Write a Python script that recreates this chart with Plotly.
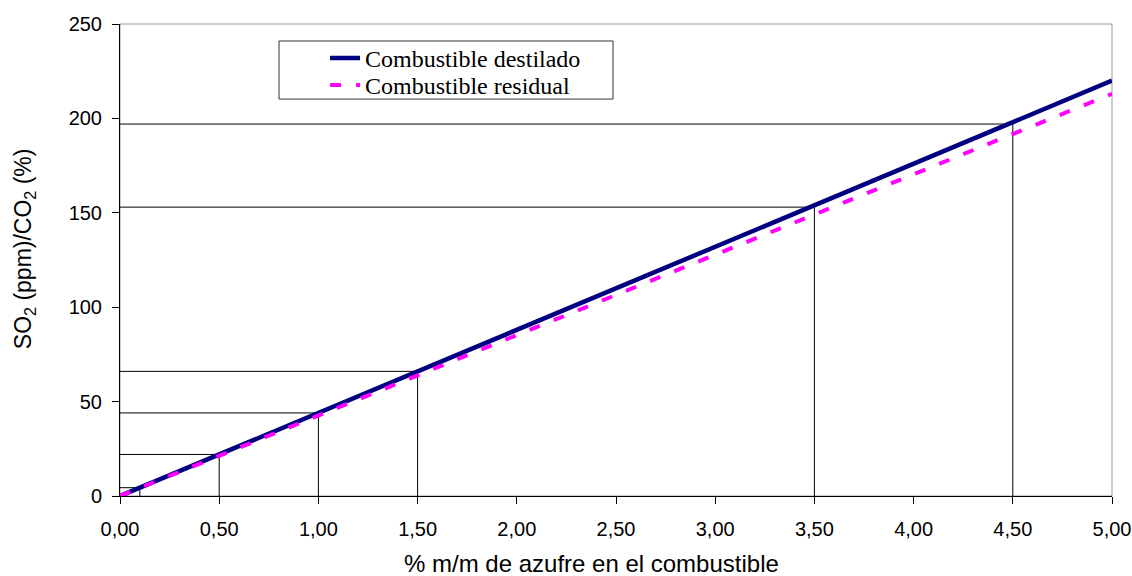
import plotly.graph_objects as go

# Data
x_dest = [0.0, 5.0]
y_dest = [0.0, 220.0]
x_resid = [0.0, 5.0]
y_resid = [0.0, 213.0]

ref_x = [0.1, 0.5, 1.0, 1.5, 3.5, 4.5]
ref_y = [4.4, 22.0, 44.0, 66.0, 153.0, 197.0]

x_title = "% m/m de azufre en el combustible"
y_title = "SO<sub>2</sub> (ppm)/CO<sub>2</sub> (%)"

fig = go.Figure()

# reference L-shaped guide lines
gx, gy = [], []
for a, b in zip(ref_x, ref_y):
    gx += [0, a, a, None]
    gy += [b, b, 0, None]
fig.add_trace(go.Scatter(x=gx, y=gy, mode="lines", line=dict(color="black", width=1),
                         showlegend=False, hoverinfo="skip", connectgaps=False))

fig.add_trace(go.Scatter(x=x_dest, y=y_dest, mode="lines", name="Combustible destilado",
                         line=dict(color="#000080", width=4.5), legend="legend"))
fig.add_trace(go.Scatter(x=x_resid, y=y_resid, mode="lines", name="Combustible residual",
                         line=dict(color="#FF00FF", width=4, dash="11px,15px"), legend="legend2"))

leg_font = dict(family="Liberation Serif, Times New Roman, serif", size=24, color="black")

fig.update_layout(
    width=1132, height=576,
    margin=dict(l=120, r=20, t=24, b=80),
    paper_bgcolor="white", plot_bgcolor="white",
    separators=",.",
    font=dict(family="Liberation Sans, Arial, sans-serif", size=20, color="black"),
    showlegend=True,
    legend=dict(x=0.2067, y=0.975, xanchor="left", yanchor="top",
                bgcolor="rgba(0,0,0,0)", borderwidth=0, font=leg_font),
    legend2=dict(x=0.2067, y=0.9178, xanchor="left", yanchor="top",
                 bgcolor="rgba(0,0,0,0)", borderwidth=0, font=leg_font),
    shapes=[
        dict(type="rect", xref="paper", yref="paper", x0=0, y0=0, x1=1, y1=1,
             line=dict(color="#999999", width=1), layer="below"),
        dict(type="rect", xref="paper", yref="paper", x0=0.1603, y0=0.841, x1=0.497, y1=0.964,
             line=dict(color="#333333", width=1), fillcolor="white", layer="below"),
    ],
    annotations=[
        dict(text=x_title, xref="paper", yref="paper", x=0.4748, y=-0.142,
             xanchor="center", yanchor="middle", showarrow=False, font=dict(size=24)),
        dict(text=y_title, xref="paper", yref="paper", x=-0.0968, y=0.525,
             xanchor="center", yanchor="middle", showarrow=False, textangle=-90,
             font=dict(size=23)),
    ],
)

fig.update_xaxes(range=[0, 5], tickmode="linear", tick0=0, dtick=0.5, tickformat=".2f",
                 showgrid=False, zeroline=False, showline=True, linecolor="black", linewidth=1,
                 ticks="outside", ticklen=7, tickcolor="black", ticklabelstandoff=8,
                 automargin=False)
fig.update_yaxes(range=[0, 250], tickmode="linear", tick0=0, dtick=50,
                 showgrid=False, zeroline=False, showline=True, linecolor="black", linewidth=1,
                 ticks="outside", ticklen=7, tickcolor="black", ticklabelstandoff=6,
                 automargin=False)

fig.write_html("out.html", config={"displayModeBar": False},
               post_script="document.body.style.margin='0';document.body.style.overflow='hidden';")
